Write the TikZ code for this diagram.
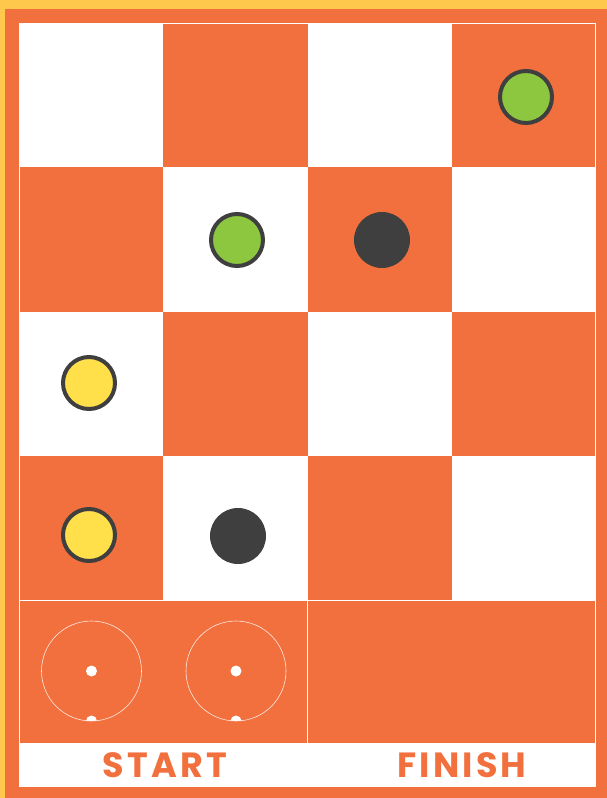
\documentclass[tikz,border=0pt]{standalone}
\usepackage{fontspec}
\newfontfamily\labelfont[LetterSpace=9]{Poppins}
\definecolor{boardorange}{HTML}{F2703E}
\definecolor{frameyellow}{HTML}{FDC84C}
\definecolor{piecegreen}{HTML}{8DC63F}
\definecolor{pieceyellow}{HTML}{FFDF4A}
\definecolor{piecedark}{HTML}{3F3F3F}
\tikzset{
  gridline/.style={draw=white, line width=0.8pt},
  piece/.style={circle, minimum size=52pt, inner sep=0pt, line width=4pt, draw=piecedark},
  greenpiece/.style={piece, fill=piecegreen},
  yellowpiece/.style={piece, fill=pieceyellow},
  darkpiece/.style={circle, minimum size=56pt, inner sep=0pt, fill=piecedark},
  startring/.style={draw=white!85!boardorange, line width=0.6pt},
  lbl/.style={text=boardorange, font=\labelfont\bfseries\fontsize{35}{38}\selectfont, inner sep=0pt}
}
\begin{document}
\begin{tikzpicture}[x=1pt,y=-1pt]
\useasboundingbox (0,0) rectangle (607,798);
% frame
\fill[frameyellow] (0,0) rectangle (607,798);
\fill[boardorange] (5,9) rectangle (607,798);
\fill[white] (19,23) rectangle (596,787);
% checkerboard
\foreach \r in {0,...,3}{
  \foreach \c in {0,...,3}{
    \pgfmathtruncatemacro{\parity}{mod(\r+\c,2)}
    \ifnum\parity=1
      \fill[boardorange] ({19+\c*144.25},{23+\r*144.25}) rectangle ({19+(\c+1)*144.25},{23+(\r+1)*144.25});
    \fi
  }
}
% start / finish boxes
\fill[boardorange] (19,600) rectangle (596,743);
\draw[gridline] (19,600) -- (596,600);
\draw[gridline] (307.5,600) -- (307.5,743);
\draw[gridline] (19,23.5) -- (596,23.5);
\draw[gridline] (595.6,23) -- (595.6,743);
\draw[gridline] (19.4,23) -- (19.4,743);
% start rings
\foreach \x in {91.5,236}{
  \begin{scope}
    \clip (\x,671) circle (50);
    \fill[white] (\x,721) circle (5.5);
  \end{scope}
  \draw[startring] (\x,671) circle (50);
  \fill[white] (\x,671) circle (5.5);
}
% pieces
\node[greenpiece] (g1) at (526,97) {};
\node[greenpiece] (g2) at (237,240) {};
\node[darkpiece] (d1) at (382,240) {};
\node[yellowpiece] (y1) at (89,383) {};
\node[yellowpiece] (y2) at (89,535) {};
\node[darkpiece] (d2) at (238,536) {};
% labels
\node[lbl] (start) at (165,765) {START};
\node[lbl] (finish) at (462,765) {FINISH};
\end{tikzpicture}
\end{document}
